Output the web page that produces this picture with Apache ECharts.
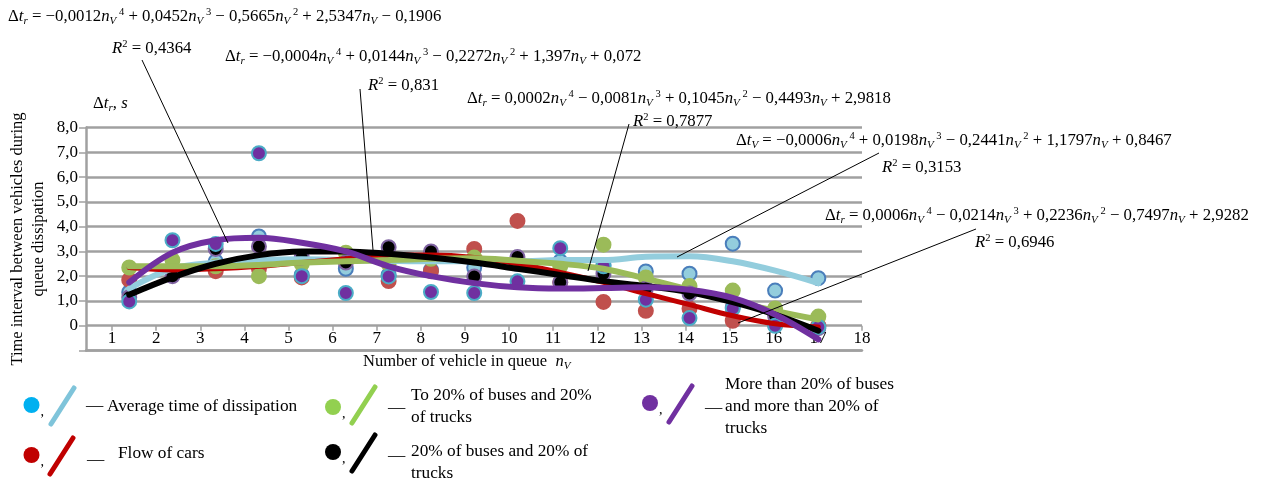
<!DOCTYPE html>
<html>
<head>
<meta charset="utf-8">
<script src="https://cdn.jsdelivr.net/npm/echarts@6/dist/echarts.min.js"></script>
<style>
html,body{margin:0;padding:0;background:#fff;}
#c{width:1262px;height:481px;}
</style>
</head>
<body>
<div id="c"></div>
<script>
// ---- data ----
const X = [1.39, 2.37, 3.35, 4.33, 5.30, 6.30, 7.27, 8.23, 9.21, 10.19, 11.16, 12.14, 13.10, 14.09, 15.07, 16.03, 17.01];
const xTicks = [1,2,3,4,5,6,7,8,9,10,11,12,13,14,15,16,17,18];

const avgPts = [1.35, 2.3, 2.6, 3.6, 2.05, 2.3, 2.05, 2.25, 2.35, 2.5, 2.6, 2.45, 2.19, 2.1, 3.31, 1.42, 1.92];
const carPts = [1.85, 2.2, 2.2, 2.3, 1.95, 2.6, 1.8, 2.2, 3.1, 4.23, 1.75, 0.96, 0.6, 0.7, 0.2, 0.05, 0.0];
const g20Pts = [2.35, 2.65, 2.4, 2.0, 2.5, 2.95, 2.5, 2.7, 2.75, 2.6, 2.4, 3.27, 1.95, 1.6, 1.42, 0.7, 0.37];
const b20Pts = [1.15, 2.0, 3.1, 3.2, 2.75, 2.55, 3.17, 3.0, 1.99, 2.77, 1.75, 2.1, 1.5, 1.3, 0.75, 0.4, -0.1];
const m20Pts = [0.98, 3.45, 3.3, 6.96, 2.0, 1.32, 1.99, 1.36, 1.32, 1.79, 3.13, 2.4, 1.05, 0.31, 0.7, 0.0, -0.05];

const avgFit = [1.5, 2.3, 2.55, 2.65, 2.68, 2.65, 2.62, 2.6, 2.6, 2.6, 2.65, 2.65, 2.78, 2.8, 2.6, 2.22, 1.72];
const carFit = [2.35, 2.25, 2.3, 2.4, 2.55, 2.7, 2.85, 2.85, 2.75, 2.5, 2.15, 1.75, 1.3, 0.85, 0.4, 0.08, -0.05];
const g20Fit = [2.4, 2.4, 2.4, 2.45, 2.55, 2.6, 2.65, 2.7, 2.72, 2.62, 2.5, 2.3, 1.9, 1.45, 1.0, 0.6, 0.25];
const b20Fit = [1.25, 1.95, 2.5, 2.85, 3.0, 3.0, 2.9, 2.75, 2.55, 2.3, 2.05, 1.8, 1.6, 1.35, 0.95, 0.45, -0.2];
const m20Fit = [1.75, 2.95, 3.45, 3.55, 3.35, 3.0, 2.4, 2.0, 1.72, 1.55, 1.5, 1.52, 1.55, 1.45, 1.12, 0.45, -0.55];

const eqCoefs = [
  ['r', '−0,0012', '+ 0,0452', '− 0,5665', '+ 2,5347', '− 0,1906'],
  ['r', '−0,0004', '+ 0,0144', '− 0,2272', '+ 1,397', '+ 0,072'],
  ['r', '0,0002', '− 0,0081', '+ 0,1045', '− 0,4493', '+ 2,9818'],
  ['V', '−0,0006', '+ 0,0198', '− 0,2441', '+ 1,1797', '+ 0,8467'],
  ['r', '0,0006', '− 0,0214', '+ 0,2236', '− 0,7497', '+ 2,9282']
];
const r2Values = ['0,4364', '0,831', '0,7877', '0,3153', '0,6946'];

const legendNames = [
  'Average time of dissipation',
  'Flow of cars',
  'To 20% of buses and 20%\nof trucks',
  '20% of buses and 20% of\ntrucks',
  'More than 20% of buses\nand more than 20% of\ntrucks'
];

// ---- rendering ----
const F = "'Liberation Serif', 'Times New Roman', serif";
const FS = 16.8;
function mkRich(fs) {
  return {
    n: {fontFamily: F, fontSize: fs, fill: '#000', lineHeight: 20},
    i: {fontFamily: F, fontSize: fs, fill: '#000', fontStyle: 'italic', lineHeight: 20},
    sub: {fontFamily: F, fontSize: 11, fill: '#000', fontStyle: 'italic', verticalAlign: 'bottom'},
    sup: {fontFamily: F, fontSize: 10.5, fill: '#000', verticalAlign: 'top'}
  };
}
const rich = mkRich(FS);

function eqText(c) {
  const nv = (p) => '{i|n}{sub|V}' + (p ? '{sup| ' + p + '}' : '');
  return '{n|Δ}{i|t}{sub|' + c[0] + '}{n| = ' + c[1] + '}' + nv('4') +
    '{n| ' + c[2] + '}' + nv('3') + '{n| ' + c[3] + '}' + nv('2') +
    '{n| ' + c[4] + '}' + nv('') + '{n| ' + c[5] + '}';
}
function r2Text(v) { return '{i|R}{sup|2}{n| = ' + v + '}'; }

function txt(x, y, text, opts) {
  opts = opts || {};
  const fs = opts.fs || FS;
  return {
    type: 'text', x: x, y: y, rotation: opts.rotation || 0, z: 50,
    style: {
      text: text, rich: opts.fs ? mkRich(fs) : rich, fill: '#000',
      font: fs + 'px ' + F,
      textAlign: opts.align || 'left', textVerticalAlign: 'middle',
      lineHeight: opts.lineHeight || 20
    }
  };
}
function line(x1, y1, x2, y2, color, w, cap) {
  return {type: 'line', z: 50, shape: {x1, y1, x2, y2},
    style: {stroke: color, lineWidth: w, lineCap: cap || 'butt'}};
}
function circ(cx, cy, r, color) {
  return {type: 'circle', z: 50, shape: {cx, cy, r}, style: {fill: color}};
}

const eqPos = [[8, 17], [225, 57], [467, 99], [736, 141], [825, 216]];
const r2Pos = [[112, 49], [368, 86], [633, 122], [882, 168], [975, 243]];
const leaders = [[142, 60, 228, 243], [360, 89, 373, 250], [629, 124, 588, 271], [879, 153, 677, 257], [976, 229, 738, 323]];

const graphics = [];
eqCoefs.forEach((c, k) => {
  graphics.push(txt(eqPos[k][0], eqPos[k][1], eqText(c)));
  graphics.push(txt(r2Pos[k][0], r2Pos[k][1], r2Text(r2Values[k])));
  const L = leaders[k];
  graphics.push(line(L[0], L[1], L[2], L[3], '#000', 1));
});
// axis titles
graphics.push(txt(93, 104, '{n|Δ}{i|t}{sub|r}{n|, }{i|s}'));
graphics.push(txt(363, 362, '{n|Number of vehicle in queue  }{i|n}{sub|V}', {fs: 16.5}));
graphics.push(txt(28, 239, 'Time interval between vehicles during\nqueue dissipation',
  {rotation: Math.PI / 2, align: 'center', lineHeight: 21, fs: 16.5}));

// legend
const LFS = 17.3;
const legendItems = [
  {c: '#00B0F0', l: '#7FC4DA', cx: 31.5, cy: 405, lx: 51, ly: 406, dash: 86, dy: 405, tx: 107, ty: 406, name: legendNames[0]},
  {c: '#C00000', l: '#C00000', cx: 31.5, cy: 455, lx: 50, ly: 456, dash: 87, dy: 459, tx: 118, ty: 453, name: legendNames[1]},
  {c: '#92D050', l: '#92D050', cx: 333, cy: 407, lx: 352, ly: 405, dash: 388, dy: 407, tx: 411, ty: 406, name: legendNames[2]},
  {c: '#000000', l: '#000000', cx: 333, cy: 452, lx: 352, ly: 453, dash: 388, dy: 455, tx: 411, ty: 462, name: legendNames[3]},
  {c: '#7030A0', l: '#7030A0', cx: 650, cy: 403, lx: 669, ly: 404, dash: 705, dy: 407, tx: 725, ty: 406, name: legendNames[4]}
];
legendItems.forEach(it => {
  graphics.push(circ(it.cx, it.cy, 8, it.c));
  graphics.push(txt(it.cx + 9, it.cy + 7, ',', {fs: 14}));
  graphics.push(line(it.lx, it.ly + 18, it.lx + 23, it.ly - 18, it.l, 5, 'round'));
  graphics.push(txt(it.dash, it.dy, '—', {fs: LFS}));
  graphics.push(txt(it.tx, it.ty, it.name, {lineHeight: 22, fs: LFS}));
});

const groups = [
  {pts: avgPts, fit: avgFit, fill: '#93CDDD', border: '#4A7EBB', lc: '#93CDDD', lw: 6},
  {pts: carPts, fit: carFit, fill: '#C0504D', border: '#C0504D', lc: '#C00000', lw: 5},
  {pts: g20Pts, fit: g20Fit, fill: '#9BBB59', border: '#9BBB59', lc: '#9BBB59', lw: 6},
  {pts: b20Pts, fit: b20Fit, fill: '#000000', border: '#8064A2', lc: '#000000', lw: 6},
  {pts: m20Pts, fit: m20Fit, fill: '#7030A0', border: '#4BACC6', lc: '#7030A0', lw: 6}
];
const series = [];
groups.forEach((g, k) => {
  series.push({type: 'scatter', z: 2 + k * 0.1, symbolSize: 14, data: X.map((x, i) => [x, g.pts[i]]),
    itemStyle: {color: g.fill, borderColor: g.border, borderWidth: 2, opacity: 1}});
});
groups.forEach((g, k) => {
  series.push({type: 'line', z: 4 + k * 0.1, smooth: 0.35, showSymbol: false, symbol: 'none',
    data: X.map((x, i) => [x, g.fit[i]]),
    lineStyle: {color: g.lc, width: g.lw, cap: 'round'}});
});

const chart = echarts.init(document.getElementById('c'), null, {renderer: 'canvas'});
chart.setOption({
  animation: false,
  backgroundColor: '#fff',
  grid: {left: 86, right: 400, top: 127.5, bottom: 130.5, containLabel: false},
  xAxis: [{
    type: 'value', min: 0.41, max: 18.0, position: 'bottom',
    axisLine: {onZero: false, lineStyle: {color: '#A0A0A0', width: 2.5}},
    axisTick: {show: false},
    axisLabel: {customValues: xTicks, inside: true, margin: 3, color: '#000', fontFamily: F, fontSize: 17},
    splitLine: {show: false}
  }, {
    type: 'value', min: 0.41, max: 18.0, position: 'bottom', offset: -24.8,
    axisLine: {show: false, onZero: false},
    axisTick: {show: true, customValues: xTicks, length: 5, lineStyle: {color: '#A0A0A0', width: 1.5}},
    axisLabel: {show: false},
    splitLine: {show: false}
  }],
  yAxis: {
    type: 'value', min: -1, max: 8, interval: 1,
    axisLine: {show: true, lineStyle: {color: '#A0A0A0', width: 2.5}},
    axisTick: {show: true, length: 7, lineStyle: {color: '#A0A0A0', width: 1.5}},
    axisLabel: {margin: 8, color: '#000', fontFamily: F, fontSize: 17,
      formatter: v => v < 0 ? '' : (v === 0 ? '0' : v.toFixed(1).replace('.', ','))},
    splitLine: {show: true, lineStyle: {color: '#A0A0A0', width: 2.5}}
  },
  graphic: graphics,
  series: series
});
</script>
</body>
</html>
